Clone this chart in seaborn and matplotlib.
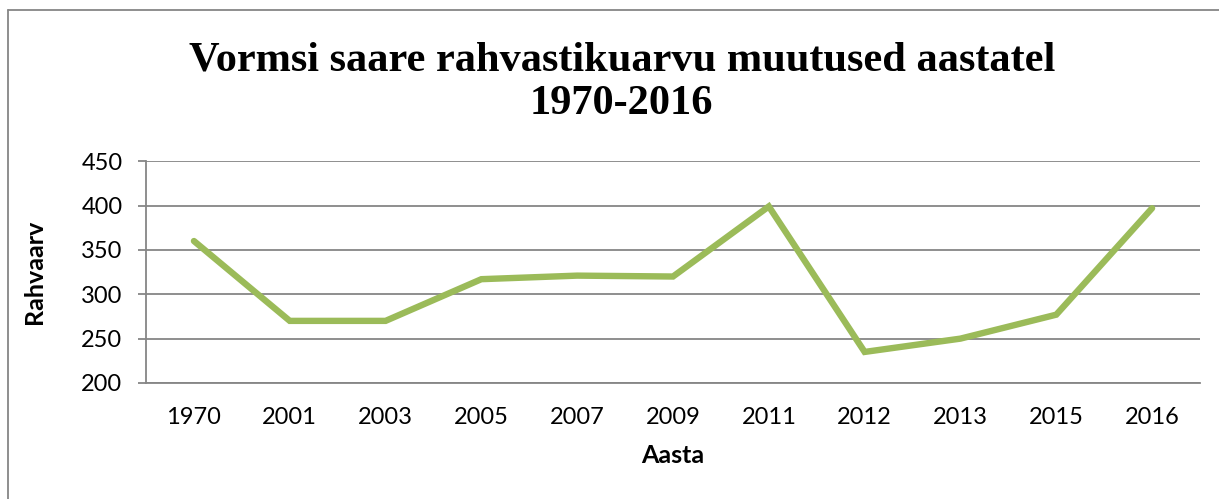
import matplotlib
matplotlib.use("Agg")
import matplotlib.pyplot as plt
import seaborn as sns
import pandas as pd
from matplotlib.lines import Line2D

# data
years = ['1970', '2001', '2003', '2005', '2007', '2009', '2011', '2012', '2013', '2015', '2016']
population = [360, 270, 270, 317, 321, 320, 399, 235, 250, 277, 397]
y_ticks = [200, 250, 300, 350, 400, 450]

df = pd.DataFrame({'Aasta': years, 'Rahvaarv': population})

sns.set_theme(style='white')
plt.rcParams['font.family'] = ['Lato', 'DejaVu Sans']
plt.rcParams['text.color'] = 'black'
plt.rcParams['axes.labelcolor'] = 'black'
plt.rcParams['xtick.color'] = 'black'
plt.rcParams['ytick.color'] = 'black'

fig = plt.figure(figsize=(12.19, 4.99), dpi=100)
ax = fig.add_axes([0.1198, 0.2325, 0.8646, 0.4445])

sns.lineplot(data=df, x='Aasta', y='Rahvaarv', ax=ax, color='#9BBB59',
             linewidth=4.6, sort=False, solid_capstyle='round', solid_joinstyle='miter')

ax.set_ylim(200, 450)
ax.set_yticks(y_ticks)
ax.set_xlim(-0.5, len(years) - 0.5)
ax.grid(axis='y', color='#868686', linewidth=1.3)
ax.grid(axis='x', visible=False)

for side in ['top', 'right']:
    ax.spines[side].set_visible(False)
for side in ['left', 'bottom']:
    ax.spines[side].set_color('#868686')
    ax.spines[side].set_linewidth(1.3)

ax.tick_params(axis='y', which='both', left=True, length=6, width=1.3, color='#868686',
               labelcolor='black', labelsize=17, pad=11)
ax.tick_params(axis='x', bottom=False, labelcolor='black', labelsize=17, pad=11)

ax.set_xlabel('Aasta', fontsize=18, fontweight='bold', labelpad=12)
ax.set_ylabel('Rahvaarv', fontsize=18, fontweight='bold', labelpad=25)

fig.text(0.51, 0.835, 'Vormsi saare rahvastikuarvu muutused aastatel\n1970-2016',
         ha='center', va='center', fontsize=30.5, fontweight='bold', color='black',
         family='Liberation Serif', linespacing=1.2)

# chart border (top and left only visible in crop)
fig.add_artist(Line2D([8 / 1219, 1.0], [1 - 10 / 499, 1 - 10 / 499],
                      transform=fig.transFigure, color='#868686', linewidth=1.3))
fig.add_artist(Line2D([8 / 1219, 8 / 1219], [0.0, 1 - 10 / 499],
                      transform=fig.transFigure, color='#868686', linewidth=1.3))

fig.savefig('out.png', dpi=100, facecolor='white')
